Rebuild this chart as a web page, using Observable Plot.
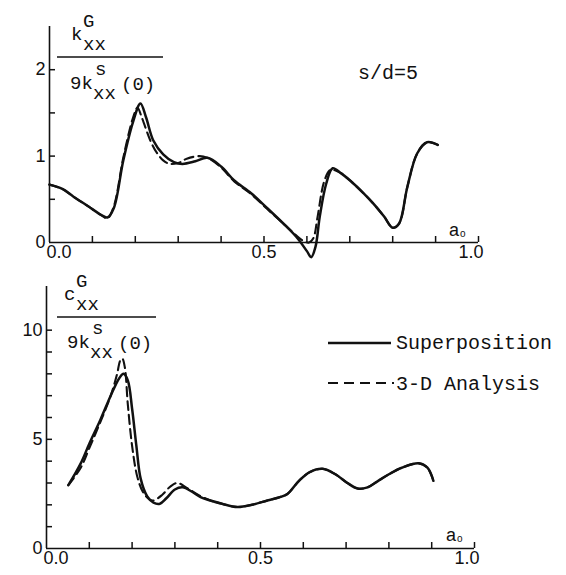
<!DOCTYPE html>
<html><head><meta charset="utf-8">
<script src="https://cdn.jsdelivr.net/npm/d3@7"></script>
<script src="https://cdn.jsdelivr.net/npm/@observablehq/plot@0.6"></script>
<style>
body{margin:0;background:#fff}
#chart svg{display:block;overflow:visible}
</style>
</head><body><div id="chart"></div>
<script>
// ---- Top panel: k_xx^G / 9k_xx^s(0) ----
const kSupA = [0.00,0.03,0.056,0.09,0.12,0.135,0.15,0.172,0.195,0.212,0.225,0.242,0.265,0.29,0.31,0.34,0.368,0.40,0.43,0.47,0.507,0.545,0.578,0.600,0.610,0.620,0.630,0.645,0.660,0.680,0.70,0.73,0.755,0.78,0.80,0.815,0.834,0.857,0.88,0.905];
const kSupV = [0.67,0.62,0.53,0.42,0.32,0.29,0.40,0.95,1.40,1.61,1.45,1.18,1.02,0.93,0.91,0.94,0.98,0.88,0.72,0.57,0.40,0.22,0.05,-0.10,-0.17,-0.05,0.30,0.68,0.86,0.80,0.72,0.58,0.45,0.30,0.17,0.22,0.64,1.03,1.16,1.13];
const k3dA = [0.00,0.03,0.056,0.09,0.12,0.135,0.15,0.172,0.195,0.205,0.215,0.235,0.25,0.265,0.28,0.30,0.32,0.35,0.368,0.40,0.43,0.47,0.507,0.545,0.578,0.595,0.605,0.615,0.625,0.64,0.655,0.68,0.70,0.73,0.755,0.78,0.80,0.815,0.834,0.857,0.88,0.905];
const k3dV = [0.67,0.62,0.53,0.42,0.32,0.28,0.42,0.98,1.45,1.56,1.45,1.18,1.04,0.95,0.91,0.92,0.97,1.00,0.98,0.87,0.71,0.56,0.39,0.22,0.07,0.01,0.00,0.05,0.30,0.70,0.84,0.80,0.72,0.58,0.45,0.30,0.17,0.22,0.64,1.03,1.16,1.13];

// ---- Bottom panel: c_xx^G / 9k_xx^s(0) ----
const cSupA = [0.051,0.08,0.10,0.126,0.15,0.17,0.18,0.19,0.20,0.21,0.22,0.235,0.25,0.265,0.28,0.30,0.318,0.34,0.36,0.383,0.41,0.446,0.48,0.516,0.545,0.563,0.59,0.615,0.645,0.675,0.703,0.727,0.75,0.775,0.80,0.83,0.87,0.89,0.904];
const cSupV = [2.9,3.9,4.8,5.9,7.0,7.8,8.0,7.7,6.4,4.7,3.2,2.4,2.1,2.05,2.3,2.7,2.8,2.6,2.35,2.2,2.05,1.9,2.0,2.2,2.35,2.5,3.1,3.5,3.65,3.4,3.0,2.75,2.8,3.1,3.4,3.7,3.9,3.7,3.1];
const c3dA = [0.051,0.08,0.10,0.126,0.15,0.165,0.172,0.177,0.183,0.19,0.20,0.212,0.225,0.24,0.25,0.27,0.29,0.306,0.33,0.36,0.383,0.41,0.446,0.48,0.516,0.545,0.563,0.59,0.615,0.645,0.675,0.703,0.727,0.75,0.775,0.80,0.83,0.87,0.89,0.904];
const c3dV = [2.9,3.7,4.6,5.8,7.0,8.0,8.6,8.7,8.3,6.6,4.7,3.3,2.6,2.25,2.2,2.45,2.85,3.0,2.75,2.4,2.2,2.05,1.9,2.0,2.2,2.35,2.5,3.1,3.5,3.65,3.4,3.0,2.75,2.8,3.1,3.4,3.7,3.9,3.7,3.1];

const xMinorTicks = [0.1,0.2,0.3,0.4,0.5,0.6,0.7,0.8,0.9,1.0];
const xLabels = [0.0, 0.5, 1.0];
const kYTicks = [0.5,1,1.5,2];
const kYLabels = [0,1,2];
const cYTicks = [1,2,3,4,5,6,7,8,9,10];
const cYLabels = [0,5,10];
const legendNames = ["Superposition","3-D Analysis"];

(function(){
const zip = (a,v) => a.map((x,i)=>({a:x, v:v[i]}));
const tickFont = "Liberation Sans, Arial, sans-serif";
const monoFont = "Liberation Mono, DejaVu Sans Mono, monospace";
const W = 566, TL = 6;

function panel({height, marginLeft, marginRight, marginTop, marginBottom, yDomain, yTicks, yLabels, sup, d3d}) {
  const fh = height - marginTop - marginBottom, fw = W - marginLeft - marginRight;
  return Plot.plot({
    width: W, height, marginLeft, marginRight, marginTop, marginBottom,
    style: {fontFamily: tickFont, fontSize: "18px", color: "#111", background: "#fff"},
    x: {domain: [0, 1], axis: null},
    y: {domain: yDomain, axis: null},
    marks: [
      Plot.ruleY([0], {stroke: "#111", strokeWidth: 1.6}),
      Plot.ruleX([0], {stroke: "#111", strokeWidth: 1.6}),
      Plot.ruleX(xMinorTicks, {x: d => d, insetTop: fh - TL, stroke: "#111", strokeWidth: 1.5}),
      Plot.ruleY(yTicks, {y: d => d, insetRight: fw - TL, stroke: "#111", strokeWidth: 1.5}),
      Plot.axisX([xLabels[0]], {label: null, tickSize: 0, tickPadding: 3, textAnchor: "start", dx: -3, tickFormat: d3.format(".1f"), fontSize: 18, fill: "#111"}),
      Plot.axisX([xLabels[1]], {label: null, tickSize: 0, tickPadding: 3, tickFormat: d3.format(".1f"), fontSize: 18, fill: "#111"}),
      Plot.axisX([xLabels[2]], {label: null, tickSize: 0, tickPadding: 3, textAnchor: "end", dx: 5, tickFormat: d3.format(".1f"), fontSize: 18, fill: "#111"}),
      Plot.axisY(yLabels, {label: null, tickSize: 0, tickPadding: 4, fontSize: 18, fill: "#111", tickFormat: d3.format("d")}),
      Plot.line(zip(d3d.a, d3d.v), {x: "a", y: "v", curve: "catmull-rom", stroke: "#111", strokeWidth: 2.1, strokeDasharray: "9,5"}),
      Plot.line(zip(sup.a, sup.v), {x: "a", y: "v", curve: "catmull-rom", stroke: "#111", strokeWidth: 2.5})
    ]
  });
}

const topPlot = panel({height: 260, marginLeft: 49, marginRight: 88, marginTop: 26, marginBottom: 18,
  yDomain: [0, 2.5], yTicks: kYTicks, yLabels: kYLabels,
  sup: {a: kSupA, v: kSupV}, d3d: {a: k3dA, v: k3dV}});
const botPlot = panel({height: 315, marginLeft: 46, marginRight: 92, marginTop: 26, marginBottom: 27,
  yDomain: [0, 12], yTicks: cYTicks, yLabels: cYLabels,
  sup: {a: cSupA, v: cSupV}, d3d: {a: c3dA, v: c3dV}});

document.getElementById("chart").append(topPlot, botPlot);

function txt(svg, x, y, s, size, family) {
  return d3.select(svg).append("text").attr("x", x).attr("y", y)
    .attr("text-anchor", "start")
    .attr("font-family", family).attr("font-size", size).attr("fill", "#111").text(s);
}
function fraction(svg, letter, o) {
  const f = 19;
  txt(svg, o.nx, o.ny, letter, f, monoFont);
  txt(svg, o.nx + 12, o.ny - 13, "G", f, monoFont);
  txt(svg, o.nx + 12, o.ny + 10, "xx", f, monoFont);
  d3.select(svg).append("line").attr("x1", 57).attr("x2", o.lx2).attr("y1", o.ly).attr("y2", o.ly)
    .attr("stroke", "#111").attr("stroke-width", 1.3);
  txt(svg, o.dx, o.dy, "9k", f, monoFont);
  txt(svg, o.dx + 25, o.dy - 14, "s", f, monoFont);
  txt(svg, o.dx + 23, o.dy + 10, "xx", f, monoFont);
  txt(svg, o.dx + 51, o.dy + 1, "(0)", f, monoFont);
}
fraction(topPlot, "k", {nx: 71, ny: 40, lx2: 163, ly: 57, dx: 70, dy: 89});
fraction(botPlot, "c", {nx: 64, ny: 40, lx2: 156, ly: 57, dx: 67, dy: 88});

function aLabel(svg, x, y) {
  const t = txt(svg, x, y, "a", 18, tickFont);
  t.append("tspan").attr("font-size", 10).attr("dx", 1).attr("dy", 1).text("o");
}
aLabel(topPlot, 449, 236);
aLabel(botPlot, 446, 281);

txt(topPlot, 358, 79, "s/d=5", 20, monoFont);

const lg = d3.select(botPlot);
lg.append("line").attr("x1", 328).attr("x2", 391).attr("y1", 83).attr("y2", 83).attr("stroke", "#111").attr("stroke-width", 2.3);
txt(botPlot, 396, 89, legendNames[0], 20, monoFont);
lg.append("line").attr("x1", 328).attr("x2", 394).attr("y1", 123).attr("y2", 123).attr("stroke", "#111").attr("stroke-width", 2).attr("stroke-dasharray", "10,6");
txt(botPlot, 396, 130, legendNames[1], 20, monoFont);
})();
</script>
</body></html>
